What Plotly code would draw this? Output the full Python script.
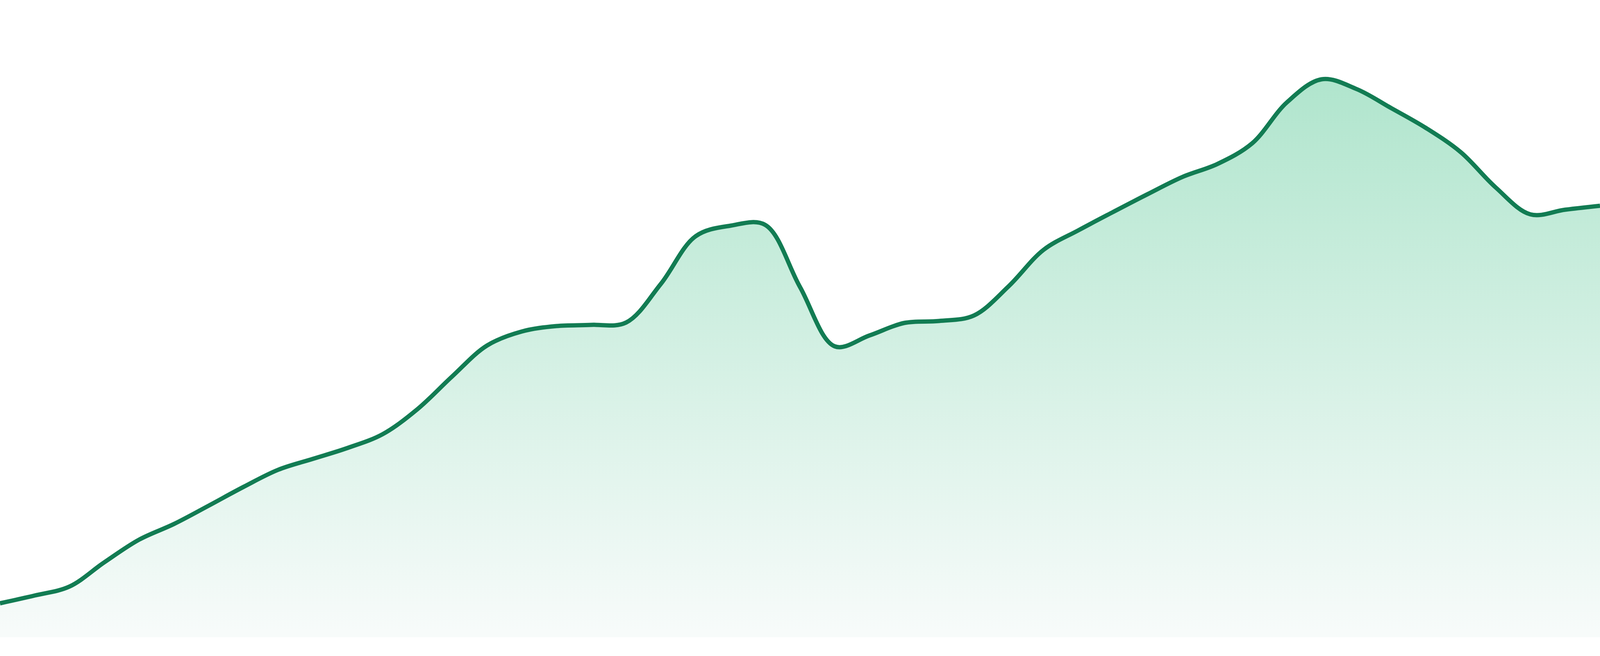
import plotly.graph_objects as go

# one point per day, 47 days
days = list(range(47))
values = [8.7, 10.7, 13.0, 19.2, 25.0, 29.0, 33.7, 38.5, 42.9, 45.7,
          48.5, 52.0, 58.4, 66.8, 74.7, 78.3, 79.7, 80.0, 80.6, 90.5,
          102.7, 105.4, 105.6, 89.7, 74.5, 77.3, 80.5, 81.0, 82.4, 89.9,
          99.2, 104.2, 108.9, 113.5, 117.9, 121.2, 126.5, 137.0, 142.9, 140.4,
          135.5, 130.4, 124.2, 115.2, 108.3, 109.5, 110.5]

line_color = "#127c53"

fig = go.Figure()
fig.add_trace(go.Scatter(
    x=days, y=values,
    mode="lines",
    line=dict(color=line_color, width=11, shape="spline", smoothing=1),
    fill="tozeroy",
    fillgradient=dict(type="vertical", start=0, stop=max(values),
                      colorscale=[[0, "#f7fbfa"], [1, "#b0e5cd"]]),
    hoverinfo="skip",
    showlegend=False,
))

# the chart fills the whole window, a thin white strip is left under the fill
fig.update_layout(
    autosize=True,
    margin=dict(l=0, r=0, t=0, b=0, pad=0),
    paper_bgcolor="white", plot_bgcolor="white",
    xaxis=dict(range=[0, 46], visible=False, showgrid=False, zeroline=False),
    yaxis=dict(range=[-4.8, 163.2], visible=False, showgrid=False, zeroline=False),
)

# drop the default body margin so the plot touches the window edges
post = ("document.body.style.margin='0';"
        "document.documentElement.style.overflow='hidden';"
        "Plotly.Plots.resize(document.getElementById('{plot_id}'));")

fig.write_html("out.html", config={"responsive": True, "displayModeBar": False},
               post_script=post)
